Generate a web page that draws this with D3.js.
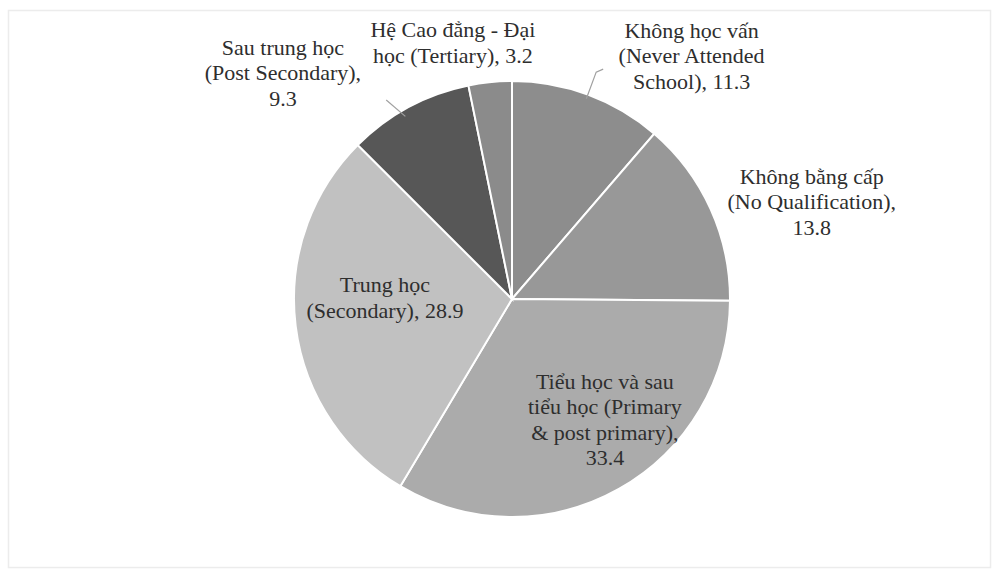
<!DOCTYPE html>
<html>
<head>
<meta charset="utf-8">
<script src="https://cdn.jsdelivr.net/npm/d3@7"></script>
</head>
<body style="margin:0">
<svg id="chart" width="1008" height="585"></svg>
<script>
// slices, clockwise from 12 o'clock
var categories = [
    ["Không học vấn", "(Never Attended", "School), 11.3"],
    ["Không bằng cấp", "(No Qualification),", "13.8"],
    ["Tiểu học và sau", "tiểu học (Primary", "& post primary),", "33.4"],
    ["Trung học", "(Secondary), 28.9"],
    ["Sau trung học", "(Post Secondary),", "9.3"],
    ["Hệ Cao đẳng - Đại", "học (Tertiary), 3.2"]
];
var shares = [11.3, 13.8, 33.4, 28.9, 9.3, 3.2];
var fills = ["#8d8d8d", "#989898", "#ababab", "#c1c1c1", "#575757", "#8b8b8b"];

// label anchor in polar form: angle in degrees from top, radius as a multiple of R
var labelAngle = [36.5, 72.1, 142.5, 270.5, 314.6, 347];
var labelRadius = [1.385, 1.445, 0.70, 0.583, 1.476, 1.205];
var hasLeader = [true, false, false, false, true, false];

var cx = 512, cy = 299, R = 218;
var lineHeight = 25.5;

var svg = d3.select("#chart");

svg.append("rect")
    .attr("x", 8.5).attr("y", 10.5)
    .attr("width", 982).attr("height", 557)
    .attr("fill", "none")
    .attr("stroke", "#ececec")
    .attr("stroke-width", 1.5);

var pie = d3.pie().sort(null).value(function (d) { return d; });
var arcs = pie(shares);
var arc = d3.arc().innerRadius(0).outerRadius(R);

var g = svg.append("g").attr("transform", "translate(" + cx + "," + cy + ")");

g.selectAll("path.slice")
    .data(arcs)
    .enter().append("path")
    .attr("class", "slice")
    .attr("d", arc)
    .attr("fill", function (d, i) { return fills[i]; })
    .attr("stroke", "#ffffff")
    .attr("stroke-width", 2);

function polar(angleDeg, r) {
    var a = angleDeg * Math.PI / 180;
    return [r * Math.sin(a), -r * Math.cos(a)];
}

// leader lines: from just inside the slice edge out towards the label
arcs.forEach(function (d, i) {
    if (!hasLeader[i]) return;
    var mid = (d.startAngle + d.endAngle) / 2 * 180 / Math.PI;
    var right = polar(labelAngle[i], 1)[0] > 0;
    var inner = polar(right ? mid : mid - 2, R * (right ? 0.98 : 0.97));
    var outer = polar(right ? mid : mid - 4, R * (right ? 1.11 : 1.08));
    var pts = [inner, outer];
    if (right) pts.push([outer[0] + 7, outer[1] - 3]);
    g.append("path")
        .attr("d", d3.line()(pts))
        .attr("fill", "none")
        .attr("stroke", "#a0a0a0")
        .attr("stroke-width", 1.2);
});

// one text element per label line
categories.forEach(function (lines, i) {
    var p = polar(labelAngle[i], labelRadius[i] * R);
    var n = lines.length;
    svg.selectAll(null)
        .data(lines)
        .enter().append("text")
        .attr("x", cx + p[0])
        .attr("y", function (t, j) { return cy + p[1] + (j - (n - 1) / 2) * lineHeight + 7; })
        .attr("text-anchor", "middle")
        .attr("fill", "#2e2e2e")
        .style("font", "22px 'Liberation Serif', serif")
        .text(function (t) { return t; });
});
</script>
</body>
</html>
